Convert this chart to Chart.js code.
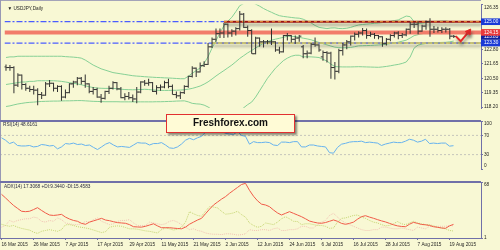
<!DOCTYPE html>
<html lang="en">
<head>
<meta charset="utf-8">
<title>USDJPY, Daily</title>
<script src="https://cdn.jsdelivr.net/npm/chart.js@4.4.1/dist/chart.umd.min.js"></script>
<style>
  html, body { margin: 0; padding: 0; background: #f8f8d4; }
  #wrap { position: relative; width: 500px; height: 250px; overflow: hidden; background: #f8f8d4; }
  canvas { position: absolute; left: 0; }
  .rule { position: absolute; background: #7070a8; z-index: 2; }
  #brand {
    position: absolute; left: 166px; top: 114px; width: 129px; height: 19px; box-sizing: border-box;
    border: 1.5px solid #e23030; background: #fffbd6; box-shadow: 2px 2px 2px rgba(0,0,0,0.45);
    font: bold 10px "Liberation Sans", Arial, sans-serif; color: #111; text-align: center;
    line-height: 16px; z-index: 3;
  }
</style>
</head>
<body>
<div id="wrap">
  <canvas id="priceChart" width="500" height="127" style="top:0"></canvas>
  <canvas id="rsiChart" width="500" height="66" style="top:121px"></canvas>
  <canvas id="adxChart" width="500" height="68" style="top:182px"></canvas>
  <div class="rule" style="left:0;top:0;width:481px;height:1px;background:#a4a4b8"></div>
  <div class="rule" style="left:0;top:0;width:1px;height:238px;background:#9898b4"></div>
  <div class="rule" style="left:0;top:120px;width:481px;height:2px"></div>
  <div class="rule" style="left:0;top:181px;width:481px;height:2px"></div>
  <div id="brand">Freshforex.com</div>
</div>
<script>
// one slot per trading day (16 Mar .. 20 Aug 2015), plus empty room on the right
const X_MIN = -0.375;
const X_MAX = 119.875;

const dates = ['16 Mar 2015', '26 Mar 2015', '7 Apr 2015', '17 Apr 2015', '29 Apr 2015', '11 May 2015',
  '21 May 2015', '2 Jun 2015', '12 Jun 2015', '24 Jun 2015', '6 Jul 2015', '16 Jul 2015',
  '28 Jul 2015', '7 Aug 2015', '19 Aug 2015'];
const dateBars = [0, 8, 16, 24, 32, 40, 48, 56, 64, 72, 80, 88, 96, 104, 112];

const opens = [
  121.40, 121.35, 121.35, 119.95, 120.75, 120.00, 119.70, 119.60, 119.55, 119.20,
  119.15, 120.05, 120.10, 119.70, 119.85, 119.00, 119.35, 120.05, 120.20, 120.50,
  120.25, 120.05, 119.45, 119.60, 119.00, 118.90, 119.45, 119.70, 120.15, 119.65,
  118.95, 119.05, 118.95, 118.85, 119.40, 120.20, 120.10, 120.15, 119.45, 119.75,
  119.80, 120.15, 119.85, 119.20, 119.10, 119.35, 119.85, 120.65, 121.30, 121.00,
  121.50, 121.60, 123.00, 123.60, 124.05, 124.10, 124.80, 124.10, 124.25, 124.45,
  125.60, 124.55, 124.30, 122.45, 123.70, 123.40, 123.40, 123.40, 123.40, 122.75,
  122.60, 123.90, 123.90, 123.60, 123.70, 123.00, 122.45, 122.50, 123.20, 123.15,
  122.20, 122.55, 122.50, 121.35, 121.05, 122.70, 123.15, 123.40, 123.85, 124.00,
  124.10, 124.30, 123.90, 124.00, 123.90, 123.80, 123.25, 123.60, 123.90, 124.10,
  123.90, 123.95, 124.40, 124.80, 124.80, 124.25, 124.65, 125.00, 124.40, 124.40,
  124.30, 124.40, 124.40, 123.85];
const highs = [
  121.60, 121.55, 121.45, 120.90, 120.80, 120.10, 119.90, 119.90, 119.70, 119.40,
  120.20, 120.35, 120.15, 119.95, 119.95, 119.60, 120.10, 120.30, 120.60, 120.60,
  120.80, 120.10, 119.80, 119.75, 119.25, 119.50, 119.90, 120.25, 120.20, 119.80,
  119.30, 119.40, 119.20, 119.80, 120.25, 120.35, 120.45, 120.20, 119.95, 120.00,
  120.30, 120.45, 120.00, 119.45, 119.45, 119.95, 120.70, 121.45, 121.35, 121.75,
  121.85, 123.30, 123.75, 124.45, 124.45, 124.90, 124.85, 124.40, 124.55, 125.85,
  125.70, 124.70, 124.40, 123.80, 123.75, 123.55, 123.55, 124.45, 123.45, 123.00,
  123.95, 124.10, 123.95, 123.90, 123.95, 123.15, 122.70, 123.30, 123.75, 123.20,
  122.70, 122.65, 122.60, 121.80, 122.85, 123.30, 123.55, 123.90, 124.15, 124.25,
  124.50, 124.45, 124.20, 124.10, 123.95, 123.85, 123.70, 124.00, 124.20, 124.25,
  124.10, 124.45, 125.00, 124.95, 125.05, 124.75, 125.10, 125.28, 124.65, 124.60,
  124.55, 124.55, 124.50, 123.95];
const lows = [
  121.10, 121.10, 119.30, 119.80, 119.60, 119.50, 119.40, 119.20, 118.35, 118.85,
  119.10, 119.80, 119.45, 119.40, 118.70, 118.90, 119.30, 119.75, 119.95, 120.00,
  119.75, 119.30, 119.20, 118.95, 118.55, 118.80, 119.25, 119.60, 119.55, 118.90,
  118.75, 118.80, 118.60, 118.50, 119.30, 119.90, 119.90, 119.40, 119.20, 119.50,
  119.70, 119.70, 119.20, 118.90, 118.85, 119.25, 119.75, 120.55, 120.60, 120.95,
  121.40, 121.55, 122.90, 123.40, 123.70, 123.70, 123.75, 123.80, 123.90, 124.30,
  124.50, 123.80, 122.45, 122.40, 123.00, 122.95, 123.20, 123.15, 122.60, 122.45,
  122.55, 123.50, 123.35, 123.25, 123.40, 122.10, 122.10, 122.40, 123.00, 122.60,
  121.90, 121.75, 120.45, 120.40, 120.90, 122.30, 122.80, 123.10, 123.50, 123.75,
  123.90, 123.65, 123.80, 123.65, 123.60, 123.00, 123.10, 123.45, 123.75, 123.60,
  123.70, 123.85, 124.05, 124.50, 124.00, 124.20, 124.35, 123.80, 124.10, 124.15,
  124.10, 124.15, 123.60, 123.70];
const closes = [
  121.35, 121.35, 119.95, 120.75, 120.00, 119.70, 119.60, 119.55, 119.20, 119.15,
  120.05, 120.10, 119.70, 119.85, 119.00, 119.35, 120.05, 120.20, 120.50, 120.25,
  120.05, 119.45, 119.60, 119.00, 118.90, 119.45, 119.70, 120.15, 119.65, 118.95,
  119.05, 118.95, 118.85, 119.40, 120.20, 120.10, 120.15, 119.45, 119.75, 119.80,
  120.15, 119.85, 119.20, 119.10, 119.35, 119.85, 120.65, 121.30, 121.00, 121.50,
  121.60, 123.00, 123.60, 124.05, 124.10, 124.80, 124.10, 124.25, 124.45, 125.60,
  124.55, 124.30, 122.45, 123.70, 123.40, 123.40, 123.40, 123.40, 122.75, 122.60,
  123.90, 123.90, 123.60, 123.70, 123.85, 122.45, 122.50, 123.20, 123.15, 122.75,
  122.55, 122.50, 121.35, 121.05, 122.70, 123.15, 123.40, 123.85, 124.00, 124.10,
  124.30, 123.90, 124.00, 123.90, 123.80, 123.25, 123.60, 123.90, 124.10, 123.90,
  123.95, 124.40, 124.80, 124.80, 124.25, 124.65, 125.00, 124.40, 124.40, 124.30,
  124.40, 124.40, 123.85, 123.83];

// Bollinger bands
const bbUpper = [
  122.15, 122.20, 122.20, 122.25, 122.25, 122.25, 122.25, 122.25, 122.25, 122.25,
  122.25, 122.25, 122.25, 122.25, 122.25, 122.22, 122.20, 122.18, 122.15, 122.10,
  121.95, 121.75, 121.55, 121.40, 121.25, 121.15, 121.05, 120.95, 120.90, 120.85,
  120.80, 120.75, 120.70, 120.67, 120.65, 120.62, 120.60, 120.58, 120.56, 120.55,
  120.53, 120.52, 120.50, 120.48, 120.46, 120.46, 120.65, 120.90, 121.10, 121.32,
  121.70, 122.21, 122.90, 123.50, 124.10, 124.68, 125.05, 125.35, 125.80, 126.28,
  126.45, 126.55, 126.55, 126.40, 126.24, 126.05, 125.89, 125.75, 125.60, 125.48,
  125.42, 125.38, 125.34, 125.30, 125.28, 125.20, 125.05, 124.90, 124.70, 124.55,
  124.50, 124.45, 124.50, 124.51, 124.46, 124.45, 124.48, 124.55, 124.65, 124.74,
  124.78, 124.81, 124.84, 124.87, 124.89, 124.93, 124.97, 125.03, 125.09, 125.14,
  125.30, 125.45, 125.40, 125.00, 124.85, 124.88, 124.93, 124.99, 125.01, 125.03,
  125.05, 125.06, 125.00, 124.94];
const bbMiddle = [
  120.00, 120.05, 120.10, 120.15, 120.20, 120.20, 120.25, 120.25, 120.30, 120.30,
  120.30, 120.30, 120.30, 120.28, 120.25, 120.20, 120.15, 120.10, 120.05, 119.98,
  119.90, 119.82, 119.76, 119.72, 119.70, 119.69, 119.69, 119.69, 119.67, 119.63,
  119.60, 119.59, 119.58, 119.59, 119.60, 119.62, 119.60, 119.57, 119.55, 119.53,
  119.53, 119.53, 119.54, 119.54, 119.56, 119.58, 119.63, 119.69, 119.78, 119.88,
  120.03, 120.21, 120.44, 120.68, 120.90, 121.11, 121.33, 121.55, 121.81, 122.08,
  122.30, 122.52, 122.71, 122.91, 123.10, 123.29, 123.41, 123.53, 123.61, 123.68,
  123.76, 123.84, 123.83, 123.82, 123.76, 123.69, 123.63, 123.56, 123.45, 123.35,
  123.25, 123.16, 123.06, 122.97, 122.94, 122.92, 122.93, 122.95, 123.01, 123.08,
  123.09, 123.10, 123.11, 123.13, 123.15, 123.17, 123.21, 123.26, 123.31, 123.37,
  123.45, 123.53, 123.70, 123.89, 123.97, 124.04, 124.10, 124.15, 124.16, 124.18,
  124.20, 124.21, 124.21, 124.20];
const bbLower = [
  118.25, 118.30, 118.38, 118.45, 118.50, 118.55, 118.58, 118.60, 118.63, 118.65,
  118.66, 118.67, 118.68, 118.68, 118.69, 118.70, 118.70, 118.71, 118.72, 118.72,
  118.70, 118.68, 118.66, 118.65, 118.64, 118.63, 118.63, 118.63, 118.63, 118.62,
  118.62, 118.62, 118.62, 118.62, 118.62, 118.62, 118.62, 118.62, 118.63, 118.63,
  118.64, 118.65, 118.66, 118.68, 118.69, 118.70, 118.62, 118.50, 118.46, 118.44,
  118.36, 118.21, 118.00, 117.90, 117.70, 117.54, 117.60, 117.75, 117.82, 117.88,
  118.15, 118.40, 118.60, 119.00, 119.50, 120.00, 120.50, 120.90, 121.30, 121.60,
  121.90, 122.10, 122.25, 122.33, 122.33, 122.20, 122.21, 122.20, 122.18, 122.15,
  122.00, 121.87, 121.62, 121.43, 121.41, 121.40, 121.40, 121.40, 121.41, 121.42,
  121.41, 121.40, 121.39, 121.38, 121.37, 121.40, 121.44, 121.49, 121.55, 121.60,
  121.68, 121.79, 122.19, 122.90, 123.14, 123.22, 123.27, 123.31, 123.33, 123.34,
  123.35, 123.36, 123.40, 123.46];

const priceTicks = [118.20, 119.35, 120.50, 121.65, 122.80, 126.35];
const priceBoxes = [123.30, 123.83, 125.00, 124.15];
const priceBoxColors = ['#1a3ad6', '#12229e', '#1a3ad6', '#ea3b3b'];
const blueLevels = [125.00, 123.30];
const resistance = 125.00;
const pivot = 124.15;
const support = 123.30;
const resistanceFrom = 55;
const supportFrom = 52;
const arrowX = [113.5, 114.75, 116.75];
const arrowY = [123.85, 123.44, 124.19];

const rsi = [
  65, 60, 53, 56, 49, 48, 48, 49, 46, 47,
  51, 50, 48, 49, 42, 46, 53, 52, 54, 51,
  52, 49, 50, 45, 40.5, 46, 51.7, 55, 50, 46,
  47, 46, 45, 50, 55, 54, 54, 50, 53, 53,
  55, 50, 44, 43, 46, 52, 60, 64, 61, 65,
  68, 76.7, 78, 79.5, 79, 80, 74, 73, 72, 78,
  70, 68, 51.7, 57, 55, 55, 56, 55, 50, 48.9,
  56, 56, 55, 57, 57, 46, 46, 50, 50, 48,
  47, 46, 34, 33, 45, 51.7, 53.5, 56, 57, 57,
  58, 55, 56, 55, 54, 49, 52, 54, 56, 55,
  55, 58, 62, 60, 56, 58, 62, 53, 54, 53,
  54, 54, 47.6, 48.6];
const rsiTicks = [0, 30, 70, 100];
const rsiLevels = [70, 30];

const adx = [
  53.3, 49, 44.4, 40, 36.5, 33, 32.5, 33, 35, 37.3,
  34, 31, 28.5, 28, 28.5, 29.3, 26, 23.7, 22, 21,
  18.5, 17.4, 20, 21.5, 23, 24.5, 22.5, 21.7, 20.5, 19.4,
  19, 18.6, 17, 14.5, 14.2, 14, 15, 16.5, 18, 15.5,
  13.3, 13.3, 13.3, 12.8, 12.4, 12, 14, 17.5, 20, 22.5,
  24.5, 30, 35.5, 40.5, 44, 47.5, 50.5, 54.5, 58, 61.5,
  65, 66.4, 58, 51, 45.5, 41.5, 40.5, 38.5, 34.5, 31,
  28.5, 30.5, 32.5, 30.5, 28.5, 26.5, 24, 21.3, 20, 19,
  18.6, 19.5, 21, 22.6, 21, 18.5, 17.4, 18.5, 20, 23.5,
  26.5, 27.7, 26, 24.6, 23, 21.5, 20.2, 18.5, 16.8, 15.5,
  14.8, 14.5, 17.5, 19.7, 18.5, 17.2, 16.8, 16, 14.5, 13.8,
  13, 12.6, 15.5, 17.3];
const plusDI = [
  17.4, 16, 15, 16, 14, 12.5, 11.5, 10.5, 8, 6.5,
  9, 10, 11, 10, 9, 11, 16.8, 17, 16, 14.5,
  13.8, 13, 12, 10.5, 9, 7.5, 8.5, 13.8, 15, 15.5,
  15, 13.5, 12, 12, 11.5, 10.5, 9.5, 9, 8, 7,
  11, 13, 12, 10.5, 11.5, 14, 20, 32.5, 30, 28,
  27, 33, 38.5, 38, 37, 33, 29.5, 30, 31, 33,
  29, 26, 19, 16, 13.8, 15, 19, 18, 17, 20,
  24, 26.5, 24, 21, 20.7, 17, 18, 18, 17, 16,
  16, 15, 12.6, 13, 20, 24.5, 25, 26.5, 28, 28.5,
  26, 24.5, 22, 20, 19, 17, 15.5, 16, 18, 20.7,
  18, 17, 19, 21, 19, 18, 17, 17, 15.5, 14,
  13, 12, 10, 9.34];
const minusDI = [
  14, 16, 22, 20, 22, 23, 24, 24, 26, 25,
  21, 20, 22, 21, 25, 23, 19, 18, 17, 17,
  18, 21, 20, 23, 25, 21, 19, 17, 18, 21,
  22, 22, 23, 19, 16, 16, 16, 20, 19, 18,
  17, 18, 21, 22, 20, 17, 14, 11, 12, 10,
  9, 7, 6, 5.5, 5.5, 5, 6, 6, 5.5, 4.5,
  5, 6, 11, 10, 10, 11, 11, 10, 12, 13,
  10, 10, 11, 11, 12, 15, 15, 13, 13, 17,
  20, 22, 28, 30.5, 26, 22, 19, 17, 15, 13,
  11, 10, 10, 11, 11, 14, 14, 13, 12, 12,
  13, 12, 11, 10, 14, 13, 12, 15, 15, 15,
  15, 15, 16, 15.46];
const adxTicks = [1, 68];

const captions = {
  price: '\u25BC USDJPY,Daily',
  rsi: 'RSI(14) 48.6161',
  adx: 'ADX(14) 17.3068 +DI:9.3440 -DI:15.4583'
};

const SLATE = '#7070a8';
const INK = '#1e1e1e';
const BAR = '#303030';
const BB = '#86d095';
const ARROW = '#e52a2a';
const TINY = { family: '"Liberation Sans", Arial, sans-serif', size: 4.7 };

const pts = arr => arr.map((v, i) => ({ x: i, y: v }));
const hline = (y, from = X_MIN, to = X_MAX) => [{ x: from, y }, { x: to, y }];

// small caption in the corner of each pane
Chart.register({
  id: 'caption',
  afterDraw(chart, args, opts) {
    if (!opts.text) return;
    const { ctx, chartArea } = chart;
    ctx.save();
    ctx.font = TINY.size + 'px ' + TINY.family;
    ctx.fillStyle = opts.color || INK;
    ctx.textBaseline = 'top';
    ctx.fillText(opts.text, chartArea.left + opts.x, chartArea.top + opts.y);
    ctx.restore();
  }
});

// soft drop shadow under the drawn trend lines and the arrow
Chart.register({
  id: 'dropShadow',
  beforeDatasetDraw(chart, args) {
    if (!chart.data.datasets[args.index].shadow) return;
    const ctx = chart.ctx;
    ctx.save();
    ctx.shadowColor = 'rgba(40,40,40,0.45)';
    ctx.shadowBlur = 3;
    ctx.shadowOffsetX = 1;
    ctx.shadowOffsetY = 3;
  },
  afterDatasetDraw(chart, args) {
    if (chart.data.datasets[args.index].shadow) chart.ctx.restore();
  }
});

function xAxis(show) {
  return {
    type: 'linear', min: X_MIN, max: X_MAX, display: show, offset: false,
    afterBuildTicks: s => { s.ticks = dateBars.map(v => ({ value: v })); },
    afterFit: s => { s.height = 12; s.paddingLeft = 0; s.paddingRight = 0; },
    grid: { display: true, drawOnChartArea: false, drawTicks: true, tickLength: 2, color: SLATE },
    border: { display: true, color: SLATE, width: 1 },
    ticks: { align: 'start', maxRotation: 0, autoSkip: false, padding: 1.5, color: INK, font: TINY,
      callback: (v, i) => dates[i] }
  };
}

function yAxis(min, max, ticks, fmt, extra) {
  return {
    type: 'linear', position: 'right', min, max,
    afterBuildTicks: s => { s.ticks = ticks.map(v => ({ value: v })); },
    afterFit: s => { s.width = 19; s.paddingTop = 0; s.paddingBottom = 0; },
    grid: { display: true, drawOnChartArea: false, drawTicks: true, tickLength: 2, color: SLATE },
    border: { display: true, color: SLATE, width: 1 },
    ticks: Object.assign({ autoSkip: false, padding: 1, color: INK, font: TINY, callback: fmt }, extra || {})
  };
}

function baseOptions(padBottom, scales, caption) {
  return {
    responsive: false,
    animation: false,
    events: [],
    layout: { padding: { left: 0, top: 0, right: 0, bottom: padBottom } },
    elements: { point: { radius: 0, hoverRadius: 0 }, line: { borderWidth: 1, tension: 0 } },
    scales,
    plugins: { legend: { display: false }, tooltip: { enabled: false }, caption }
  };
}

const boxIndex = v => priceBoxes.indexOf(v);

new Chart(document.getElementById('priceChart'), {
  type: 'line',
  data: {
    datasets: [
      { type: 'scatter', data: opens.map((v, i) => ({ x: i - 0.3, y: v })), pointStyle: 'line',
        pointRadius: 1, pointHoverRadius: 0, pointBorderWidth: 1, pointBorderColor: BAR, order: 1 },
      { type: 'scatter', data: closes.map((v, i) => ({ x: i + 0.3, y: v })), pointStyle: 'line',
        pointRadius: 1, pointHoverRadius: 0, pointBorderWidth: 1, pointBorderColor: BAR, order: 1 },
      { type: 'bar', data: lows.map((v, i) => ({ x: i, y: [v, highs[i]] })), backgroundColor: BAR,
        barThickness: 1, inflateAmount: 0, borderWidth: 0, order: 2 },
      { data: arrowX.map((x, i) => ({ x, y: arrowY[i] })), borderColor: ARROW, borderWidth: 2,
        pointStyle: 'triangle', pointRadius: [0, 0, 3.5], pointRotation: 36,
        pointBackgroundColor: ARROW, pointBorderColor: ARROW, pointBorderWidth: 1, order: 0, shadow: true },
      { data: hline(resistance, resistanceFrom), borderColor: '#f2a23a', borderDash: [3, 3], order: 3 },
      { data: hline(resistance, resistanceFrom), borderColor: '#9c1010', borderWidth: 2, order: 3, shadow: true },
      { data: hline(support, supportFrom), borderColor: '#efe23a', borderDash: [4, 2], order: 3 },
      { data: hline(support, supportFrom), borderColor: '#8c8ca4', borderWidth: 1.5, order: 3, shadow: true },
      { data: hline(pivot), borderColor: '#f27c6a', borderWidth: 4, order: 4 },
      { data: pts(bbUpper), borderColor: BB, order: 5 },
      { data: pts(bbMiddle), borderColor: BB, order: 5 },
      { data: pts(bbLower), borderColor: BB, order: 5 },
      ...blueLevels.map(v => ({ data: hline(v), borderColor: '#4a5cff', borderWidth: 1.2,
        borderDash: [6, 2, 2, 2], order: 6 }))
    ]
  },
  options: baseOptions(7, {
    x: xAxis(false),
    y: yAxis(118.13, 126.37, priceTicks.concat(priceBoxes),
      v => v === 126.35 ? ['', '126.35'] : v.toFixed(2),
      {
        showLabelBackdrop: true,
        backdropPadding: { top: 0.5, bottom: 0.5, left: 3, right: 4 },
        backdropColor: c => boxIndex(c.tick.value) >= 0 ? priceBoxColors[boxIndex(c.tick.value)] : 'rgba(0,0,0,0)',
        color: c => boxIndex(c.tick.value) >= 0 ? '#ffffff' : INK
      })
  }, { text: captions.price, x: 3, y: 2 })
});

new Chart(document.getElementById('rsiChart'), {
  type: 'line',
  data: {
    datasets: [
      { data: pts(rsi), borderColor: '#66b2ee', order: 0 },
      ...rsiLevels.map(v => ({ data: hline(v), borderColor: '#c6c6bc', borderDash: [2, 2], order: 1 }))
    ]
  },
  options: baseOptions(6, {
    x: xAxis(false),
    y: yAxis(0, 100, rsiTicks, v => v === 100 ? ['', '100'] : v === 0 ? ['0', ''] : String(v))
  }, { text: captions.rsi, x: 3, y: 1.5, color: '#2a2a40' })
});

new Chart(document.getElementById('adxChart'), {
  type: 'line',
  data: {
    datasets: [
      { data: pts(adx), borderColor: '#f05a48', order: 0 },
      { data: pts(plusDI), borderColor: '#c4d470', borderDash: [1, 1], order: 1 },
      { data: pts(minusDI), borderColor: '#f2c2b4', borderDash: [1, 1], order: 2 }
    ]
  },
  options: baseOptions(0, {
    x: xAxis(true),
    y: yAxis(1, 68, adxTicks, v => v === 68 ? ['', '68'] : String(v))
  }, { text: captions.adx, x: 4, y: 2.5, color: '#2a2a40' })
});
</script>
</body>
</html>
